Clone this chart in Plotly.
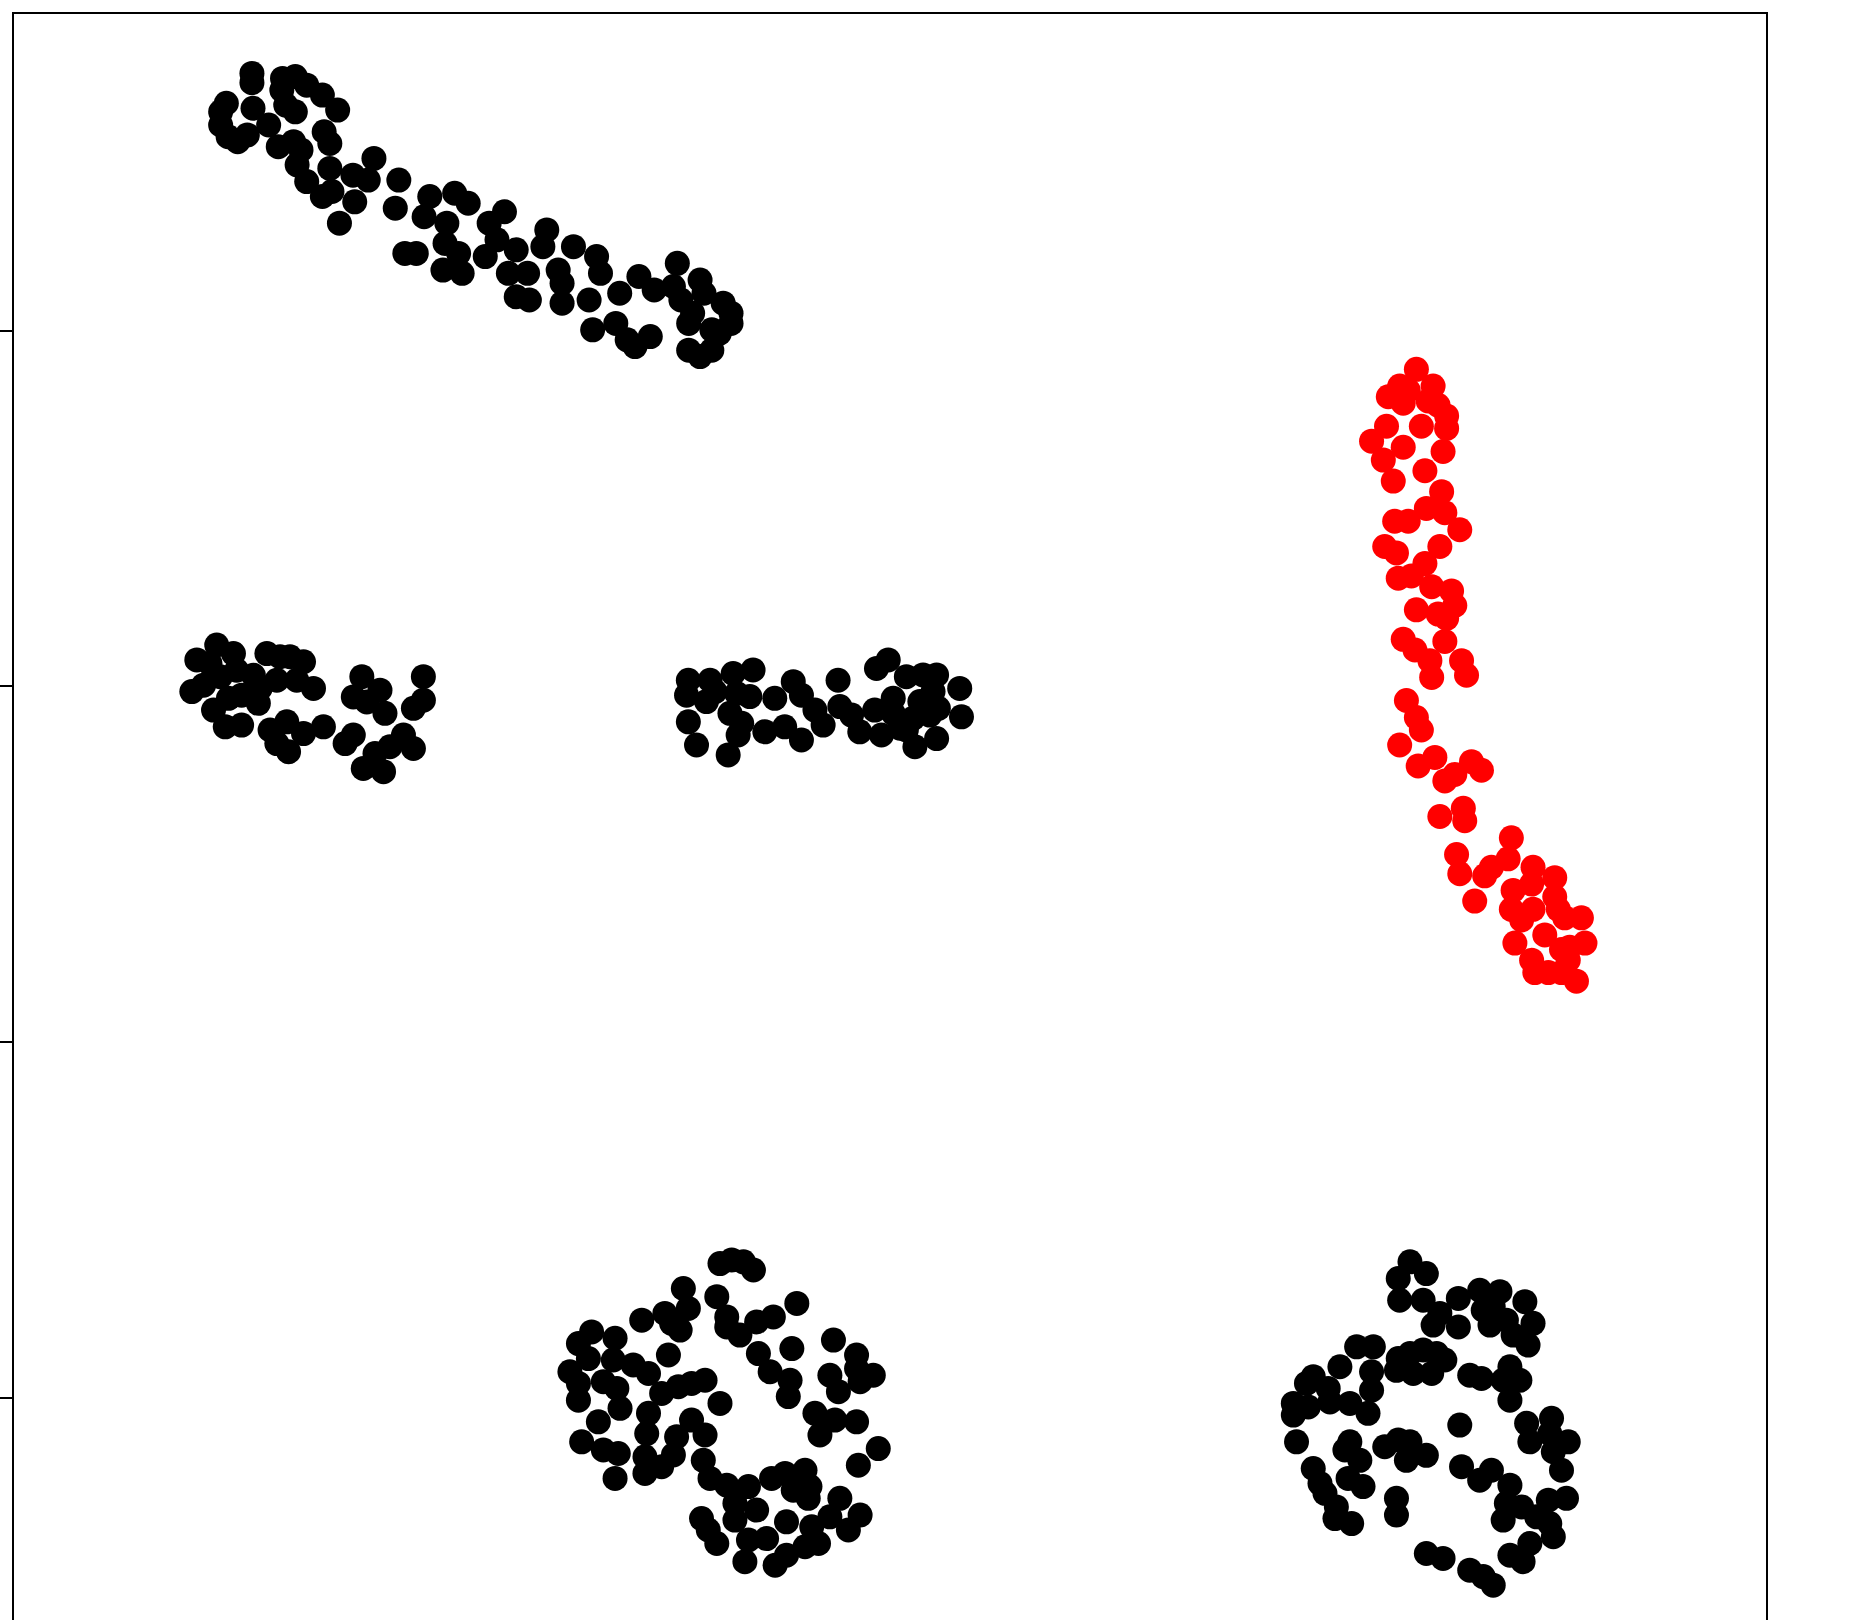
import plotly.graph_objects as go

# ---- data ----
# cluster A: upper-left diagonal band
a_x = [-13.16, -13.16, -12.30, -11.94, -11.62, -11.18, -10.75, -12.32, -12.21, -11.94,
       -13.88, -14.04, -14.04, -13.83, -13.56, -13.29, -13.13,
       -12.69, -12.42, -11.99, -11.78, -11.89, -11.62, -11.18, -10.91, -11.13, -10.97,
       -10.97, -10.70, -10.27, -10.32, -9.89, -9.73,
       -9.03, -9.13, -8.86, -8.54, -8.16, -8.32, -7.46, -7.08, -7.68, -7.73, -7.79, -7.25, -7.35,
       -6.06, -6.49, -6.27, -6.60, -5.73, -5.95, -5.73, -5.36, -5.41, -4.87, -4.98, -4.55,
       -4.44, -4.44, -4.12, -3.47, -3.36, -3.68, -3.58, -2.93, -2.82, -2.61, -2.39, -1.96,
       -2.28, -1.85, -1.31, -1.20, -1.10, -0.56, -0.45, -0.88, -0.88, -0.56, -0.23, 0.09,
       0.31, 0.31, -0.02, -0.23, -0.77]
a_y = [27.23, 26.97, 27.09, 27.14, 26.90, 26.62, 26.20, 26.76, 26.34, 26.15,
       26.39, 26.15, 25.78, 25.45, 25.31, 25.50, 26.25,
       25.78, 25.17, 25.31, 25.08, 24.66, 24.19, 23.77, 23.91, 25.59, 25.26,
       24.56, 23.02, 23.62, 24.37, 24.23, 24.84,
       24.23, 23.44, 22.17, 22.17, 23.77, 23.20, 23.86, 23.58, 23.02, 22.45, 21.70, 21.61, 22.17,
       23.34, 23.02, 22.55, 22.08, 22.27, 21.61, 20.95, 20.86, 21.61, 22.83, 22.36, 21.70,
       21.33, 20.77, 22.36, 22.08, 21.61, 20.86, 20.02, 20.20, 21.05, 19.74, 19.55, 19.83,
       21.52, 21.14, 21.24, 21.89, 20.86, 21.42, 21.05, 20.20, 19.45, 19.27, 19.45, 20.77,
       20.49, 20.20, 19.92, 20.02, 20.49]

# cluster B: middle-left
b_x = [-14.15, -14.71, -14.34, -13.68, -13.59, -14.05, -14.52, -14.85, -14.24, -13.91,
       -13.45, -13.82, -13.45, -13.12, -12.93, -12.74, -12.37, -12.09, -11.71, -11.90,
       -11.43, -12.46, -12.98, -12.65, -12.18, -12.46, -12.13, -11.71, -11.15, -10.54,
       -10.31, -10.07, -10.31, -9.93, -9.56, -9.42, -8.34, -8.34, -8.62, -8.90, -8.62,
       -9.28, -9.70, -10.03, -9.46]
b_y = [11.16, 10.74, 10.64, 10.92, 10.45, 10.27, 10.03, 9.85, 9.33, 8.86,
       8.91, 9.66, 9.75, 10.31, 9.94, 10.92, 10.83, 10.83, 10.69, 10.17,
       9.94, 10.17, 9.52, 8.77, 9.00, 8.39, 8.16, 8.67, 8.86, 8.39,
       8.63, 10.27, 9.70, 9.56, 9.89, 9.24, 10.27, 9.61, 9.38, 8.63, 8.25,
       8.30, 8.11, 7.69, 7.60]

# cluster C: middle band
c_x = [-0.89, -0.94, -0.89, -0.66, -0.28, -0.38, -0.14, 0.23, 0.37, 0.47, 0.84, 0.93,
       0.28, 0.61, 0.51, 1.26, 1.54, 1.82, 2.06, 2.29, 2.29, 2.67, 2.90, 3.32, 3.37,
       3.70, 3.93, 4.40, 4.73, 4.35, 4.87, 4.87, 4.54, 5.24, 5.71, 6.09, 5.99, 6.74,
       5.62, 5.43, 5.24, 5.90, 6.14, 6.79, 6.09, 5.48, 5.06]
c_y = [10.17, 9.75, 9.00, 8.35, 10.17, 9.57, 9.85, 8.07, 10.36, 9.80, 9.71, 10.46,
       9.24, 8.96, 8.63, 8.72, 9.66, 8.86, 10.13, 9.75, 8.49, 9.33, 8.91, 10.17, 9.43,
       9.19, 8.72, 10.50, 10.74, 9.33, 9.66, 9.24, 8.63, 10.27, 10.32, 10.32, 9.85, 9.94,
       9.57, 9.10, 8.77, 9.19, 9.38, 9.14, 8.53, 8.30, 8.82]

# cluster D: highlighted (red) band on the right
d_x = [19.58, 19.11, 18.79, 19.21, 19.35, 20.05, 19.91, 20.19, 20.43, 20.43, 19.72,
       18.74, 18.32, 18.65, 19.21, 18.93, 19.82, 20.33, 20.29, 19.86, 18.97, 19.35,
       20.38, 20.80, 18.69, 19.02, 20.24, 19.82, 19.07, 19.44, 20.01, 20.57, 20.66,
       19.58, 20.19, 20.43, 19.21, 19.54, 20.38, 19.96, 20.01, 20.85, 20.99,
       19.30, 19.58, 19.72, 19.11, 19.63, 20.10, 20.38, 20.66, 21.13, 21.41, 20.24,
       20.90, 20.94, 20.71, 20.80, 21.22, 21.50, 21.69, 22.25, 22.16, 22.30, 22.86,
       22.82, 23.47, 23.47, 22.25, 22.54, 22.86, 23.57, 23.75, 24.22, 22.35, 23.19,
       22.82, 22.91, 23.66, 23.89, 24.32, 23.29, 23.66, 24.08, 23.85]
d_y = [18.91, 18.44, 18.14, 17.96, 18.32, 18.44, 18.02, 17.90, 17.60, 17.25, 17.31,
       17.31, 16.89, 16.36, 16.72, 15.77, 16.06, 16.60, 15.47, 15.00, 14.64, 14.64,
       14.88, 14.40, 13.93, 13.75, 13.93, 13.45, 13.04, 13.10, 12.80, 12.68, 12.27,
       12.15, 12.03, 11.91, 11.32, 11.02, 11.26, 10.72, 10.25, 10.72, 10.31,
       9.60, 9.12, 8.77, 8.35, 7.76, 8.00, 7.34, 7.52, 7.88, 7.64, 6.34,
       6.57, 6.22, 5.27, 4.73, 3.96, 4.67, 4.91, 5.74, 5.15, 4.26, 4.91,
       4.44, 4.62, 4.08, 3.73, 3.43, 3.73, 3.73, 3.49, 3.49, 2.78, 3.01,
       2.30, 1.95, 2.60, 2.66, 2.78, 1.95, 1.95, 1.71, 2.30]

# cluster E: bottom-middle ring
e_x = [0.00, 0.33, 0.66, 0.94, -1.03, -0.89, -1.55, -1.36, -1.12, -2.20, -0.09, 0.19,
       0.19, 0.56, 1.03, 1.50, 2.16, -3.61, -3.98, -3.70, -2.95, -3.00, -4.22, -3.98,
       -3.98, -3.28, -2.90, -2.81, -3.42, -2.44, -2.01, -1.45, -1.64, -1.17, -0.80,
       -0.42, 0.00, -2.01, -2.06, -2.11, -2.11, -1.64, -1.31, -1.22, -0.80, -0.42,
       -0.47, -0.28, -3.89, -3.28, -2.86, -2.95, 1.08, 1.41, 2.02, 1.97, 1.92, 3.19,
       3.84, 3.84, 4.31, 3.94, 3.09, 3.33, 2.67, 3.23, 3.84, 2.81, 4.45, 3.89, 0.19,
       0.42, 0.80, 0.42, 1.03, 1.45, 1.83, 2.39, 2.53, 2.06, 2.48, 1.87, 2.58, 3.37,
       3.09, 3.94, 3.61, -0.52, -0.33, -0.09, 0.80, 1.31, 0.70, 1.55, 1.87, 2.39, 2.77]
e_y = [-6.23, -6.13, -6.18, -6.41, -6.93, -7.49, -7.63, -7.91, -8.10, -7.82, -7.16, -7.73,
       -8.01, -8.24, -7.87, -7.73, -7.35, -8.15, -8.48, -8.90, -8.33, -8.94, -9.27, -9.60,
       -10.07, -9.55, -9.74, -10.30, -10.68, -9.08, -9.32, -8.80, -9.88, -9.69, -9.60,
       -9.51, -10.16, -10.44, -11.01, -11.66, -12.13, -11.94, -11.61, -11.10, -10.63, -11.05,
       -11.76, -12.27, -11.24, -11.47, -11.57, -12.27, -8.76, -9.27, -8.62, -9.51, -9.97, -8.38,
       -8.80, -9.18, -9.37, -9.55, -9.37, -9.83, -10.44, -10.63, -10.68, -11.05, -11.43, -11.90, -12.46,
       -12.97, -12.50, -13.44, -13.16, -12.27, -12.13, -12.04, -12.50, -12.60, -12.83, -13.49, -13.63, -12.83,
       -13.35, -13.30, -13.72, -13.40, -13.72, -14.10, -14.00, -13.96, -14.61, -14.71, -14.43, -14.19, -14.10]

# cluster F: bottom-right ring
f_x = [19.40, 19.07, 19.86, 19.11, 19.77, 20.24, 20.05, 20.76, 20.76, 21.36, 21.93, 21.74,
       21.46, 21.65, 22.63, 22.86, 22.30, 22.72, 22.11, 17.90, 18.37, 17.43, 18.32, 18.32,
       16.68, 16.49, 17.10, 17.15, 16.12, 16.54, 16.12, 17.71, 18.22, 16.21, 19.07, 19.40,
       19.77, 20.15, 20.38, 19.02, 19.49, 20.01, 21.08, 21.41, 22.21, 22.02, 22.49, 22.21,
       20.80, 22.68, 23.38, 22.77, 23.33, 23.85, 23.43, 23.66, 17.71, 17.57, 18.69, 19.07,
       19.40, 19.30, 19.86, 17.99, 17.66, 18.08, 16.68, 16.87, 17.01, 17.33, 17.29, 17.76,
       19.02, 19.02, 20.85, 21.36, 21.69, 22.21, 22.11, 22.02, 22.54, 23.29, 23.80, 22.96,
       23.33, 23.43, 22.77, 22.21, 22.58, 19.86, 20.33, 21.08, 21.46, 21.74]
f_y = [-6.18, -6.65, -6.51, -7.26, -7.26, -7.63, -7.96, -7.21, -8.01, -6.98, -7.02, -7.44,
       -7.54, -7.96, -7.30, -7.91, -8.24, -8.52, -7.82, -8.57, -8.57, -9.13, -9.27, -9.79,
       -9.41, -9.60, -9.74, -10.12, -10.16, -10.26, -10.49, -10.16, -10.44, -11.24, -8.90, -8.76,
       -8.66, -8.76, -8.94, -9.23, -9.32, -9.32, -9.37, -9.46, -9.13, -9.51, -9.51, -10.07,
       -10.77, -10.72, -10.58, -11.24, -11.01, -11.24, -11.52, -12.04, -11.24, -11.47, -11.38, -11.19,
       -11.24, -11.76, -11.62, -11.76, -12.27, -12.50, -11.99, -12.41, -12.69, -13.07, -13.40, -13.54,
       -12.83, -13.30, -11.94, -12.32, -12.04, -12.46, -12.97, -13.44, -13.07, -12.88, -12.83, -13.35,
       -13.54, -13.91, -14.10, -14.43, -14.61, -14.38, -14.52, -14.85, -15.03, -15.27]

y_ticks = [20, 10, 0, -10]

x_range = [-19.85, 29.41]
y_range = [-16.25, 28.90]

# ---- figure ----
fig = go.Figure()
marker_black = dict(color="black", size=25, line=dict(width=0))
for xs, ys in [(a_x, a_y), (b_x, b_y), (c_x, c_y), (e_x, e_y), (f_x, f_y)]:
    fig.add_trace(go.Scatter(x=xs, y=ys, mode="markers", marker=marker_black,
                             showlegend=False, hoverinfo="skip"))
fig.add_trace(go.Scatter(x=d_x, y=d_y, mode="markers",
                         marker=dict(color="#ff0000", size=25, line=dict(width=0)),
                         showlegend=False, hoverinfo="skip"))

fig.update_layout(
    width=1850, height=1620,
    margin=dict(l=14, r=84, t=14, b=0, pad=0),
    paper_bgcolor="white", plot_bgcolor="white",
    hovermode=False,
    xaxis=dict(range=x_range, side="top", showline=True, linecolor="black", linewidth=2,
               showgrid=False, zeroline=False, showticklabels=False, ticks="",
               automargin=False),
    yaxis=dict(range=y_range, showline=True, mirror=True, linecolor="black", linewidth=2,
               showgrid=False, zeroline=False, tickvals=y_ticks, ticks="outside",
               ticklen=14, tickwidth=1.5, tickcolor="black", showticklabels=False,
               automargin=False),
)

fig.write_html("out.html",
               config={"displayModeBar": False},
               post_script="document.body.style.margin='0';document.body.style.overflow='hidden';")
